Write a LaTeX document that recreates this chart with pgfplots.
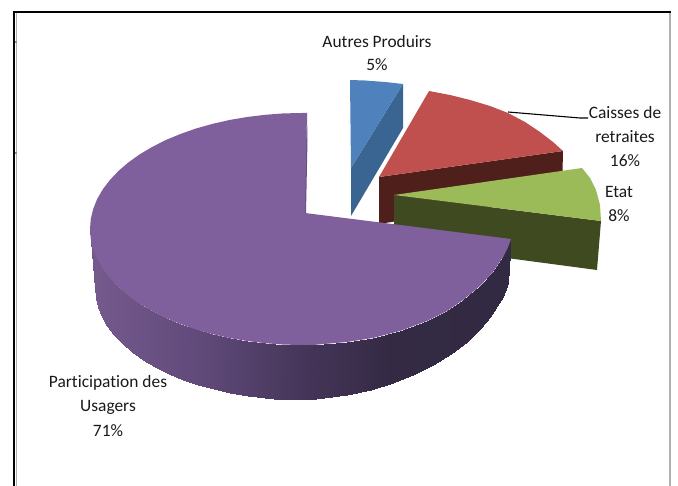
\documentclass[border=0pt]{standalone}
\usepackage{fontspec}
\setmainfont{Carlito}[Ligatures=CommonOff]
\usepackage{pgfplots}
\pgfplotsset{compat=1.18}
\definecolor{bluetop}{HTML}{4F81BD}
\definecolor{blueside}{HTML}{3A6491}
\definecolor{redtop}{HTML}{C0504D}
\definecolor{redside}{HTML}{4F1F1C}
\definecolor{greentop}{HTML}{9BBB59}
\definecolor{greenside}{HTML}{3F4A21}
\definecolor{purptop}{HTML}{7F609C}
\definecolor{purpedge}{HTML}{66507F}
\definecolor{framegray}{HTML}{B0B0B0}
\tikzset{lab/.style={font=\fontsize{17.4}{18}\selectfont, text=black!90, inner sep=0pt, anchor=center}}
\begin{document}
\begin{tikzpicture}
\useasboundingbox (0,0) rectangle (678pt,486pt);
\begin{axis}[
  at={(0,0)}, anchor=south west,
  scale only axis, width=678pt, height=486pt,
  xmin=0, xmax=678, ymin=0, ymax=486, y dir=reverse,
  hide axis, clip=true,
  point meta min=90, point meta max=510,
  colormap={side}{rgb255(90pt)=(118,90,142); rgb255(200pt)=(96,74,122); rgb255(300pt)=(70,54,90); rgb255(390pt)=(52,42,68); rgb255(510pt)=(50,41,66)},
]
% frame
\addplot[black, line width=2.4pt, no markers] coordinates {(12.5,12.3) (671,12.3)};
\addplot[black, line width=2.6pt, no markers] coordinates {(13.8,12) (13.8,486)};
\addplot[framegray, line width=1.3pt, no markers] coordinates {(16.6,13.5) (16.6,486)};
\addplot[framegray, line width=2pt, no markers] coordinates {(670,13.5) (670,486)};
\addplot[blue!40!gray!70, line width=2pt, no markers] coordinates {(16,41) (16,43)};
\addplot[blue!40!gray!70, line width=2pt, no markers] coordinates {(16,152) (16,154)};
% blue slice
\addplot[draw=none, fill=blueside, no markers] coordinates {(403,84) (403,128) (351,216) (351,168)};
\addplot[draw=none, fill=bluetop, no markers] coordinates {(350,80) (365,80.5) (385,82) (403,84) (351,168)};
% red slice
\addplot[draw=none, fill=redside, no markers] coordinates {(379,177) (563,151) (562,195) (379,224)};
\addplot[draw=none, fill=redtop, no markers] coordinates {(379,177) (429,91) (450,95) (470,100) (490,106) (508,113) (525,122) (540,132) (553,142) (563,151)};
% green slice
\addplot[draw=none, fill=greenside, no markers] coordinates {(394,195) (601,221) (597,270) (394,243)};
\addplot[draw=none, fill=greentop, no markers] coordinates {(394,195) (582,168) (590,178) (596,190) (600,205) (601,221)};
% purple side
\addplot[surf, shader=interp, mesh/rows=2, point meta=x] table {
x y
90 229
90.8 239.1
93.2 249.1
97.2 259
102.8 268.7
109.9 278
118.4 287
128.3 295.5
139.6 303.6
152.1 311
165.7 317.9
180.4 324
196 329.5
212.4 334.1
229.5 338
247.1 341
265.2 343.2
283.5 344.6
302 345
313 345
347 342
373 338
400 331
427 321
447 311
463 300
480 286
493 272
503 257
508 247
511 239
95 288
95.8 297.8
98.1 307.4
102 317
107.4 326.3
114.3 335.3
122.6 344
132.3 352.2
143.2 360
155.3 367.2
168.6 373.8
182.8 379.7
198 385
214 389.5
230.5 393.2
247.7 396.2
265.2 398.3
283 399.6
301 400
316 399.5
347 395
371 390
393 383
415 374
433 365
451 354
467 342
480 329
490 317
503 297
508 283
};
% purple inner edge
\addplot[draw=none, fill=purpedge, no markers] coordinates {(307,113) (307.5,140) (306,213) (304,213)};
% purple top
\addplot[draw=none, fill=purptop, no markers] coordinates {
(305,213) (307,113) (302,113) (283.5,113.4) (265.2,114.8) (247.1,117) (229.5,120) (212.4,123.9)
(196,128.5) (180.4,134) (165.7,140.1) (152.1,147) (139.6,154.4) (128.3,162.5) (118.4,171)
(109.9,180) (102.8,189.3) (97.2,199) (93.2,208.9) (90.8,218.9) (90,229) (90.8,239.1) (93.2,249.1)
(97.2,259) (102.8,268.7) (109.9,278) (118.4,287) (128.3,295.5) (139.6,303.6) (152.1,311)
(165.7,317.9) (180.4,324) (196,329.5) (212.4,334.1) (229.5,338) (247.1,341) (265.2,343.2)
(283.5,344.6) (302,345) (313,345) (347,342) (373,338) (400,331) (427,321) (447,311) (463,300)
(480,286) (493,272) (503,257) (508,247) (511,239)};
% leader line
\addplot[black, line width=1.1pt, no markers] coordinates {(508,112) (580,118) (588,118)};
% labels
\node[lab] at (axis cs:377,42) {Autres Produirs};
\node[lab] at (axis cs:377,65) {5\%};
\node[lab] at (axis cs:625,113) {Caisses de};
\node[lab] at (axis cs:625,137) {retraites};
\node[lab] at (axis cs:625,161) {16\%};
\node[lab] at (axis cs:619,192) {Etat};
\node[lab] at (axis cs:619,216) {8\%};
\node[lab] at (axis cs:108,383) {Participation des};
\node[lab] at (axis cs:108,407) {Usagers};
\node[lab] at (axis cs:108,431) {71\%};
\end{axis}
\end{tikzpicture}
\end{document}
